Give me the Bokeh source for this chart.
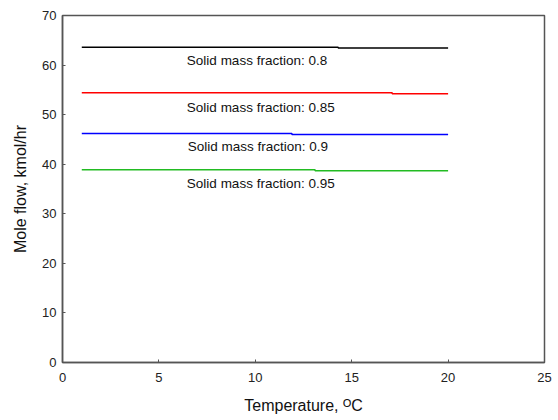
from bokeh.plotting import figure
from bokeh.models import Range1d, FixedTicker, ColumnDataSource
from bokeh.core.properties import value
from bokeh.embed import file_html
from bokeh.resources import INLINE

# Data
temp_08 = [1, 14.3, 14.3, 20]
flow_08 = [63.6, 63.6, 63.45, 63.45]
temp_085 = [1, 17.1, 17.1, 20]
flow_085 = [54.4, 54.4, 54.2, 54.2]
temp_09 = [1, 11.9, 11.9, 20]
flow_09 = [46.2, 46.2, 46.0, 46.0]
temp_095 = [1, 13.1, 13.1, 20]
flow_095 = [38.9, 38.9, 38.7, 38.7]

labels = ["Solid mass fraction: 0.8", "Solid mass fraction: 0.85",
          "Solid mass fraction: 0.9", "Solid mass fraction: 0.95"]
label_x = [6.45, 6.45, 6.5, 6.45]
label_y = [60.9, 51.5, 43.6, 36.2]

x_ticks = [0, 5, 10, 15, 20, 25]
y_ticks = [0, 10, 20, 30, 40, 50, 60, 70]

FONT = "Liberation Sans"

p = figure(width=552, height=420, output_backend="svg", toolbar_location=None,
           x_range=Range1d(0, 25), y_range=Range1d(0, 70),
           min_border_left=62, min_border_right=8, min_border_top=15, min_border_bottom=58)

p.xgrid.visible = False
p.ygrid.visible = False
p.outline_line_color = "#555555"
p.outline_line_width = 1.5

for ax in (p.xaxis[0], p.yaxis[0]):
    ax.axis_line_color = "#555555"
    ax.axis_line_width = 1.5
    ax.major_tick_in = 3
    ax.major_tick_out = 0
    ax.major_tick_line_color = "#555555"
    ax.minor_tick_line_color = None
    ax.major_label_text_font = FONT
    ax.major_label_text_font_size = "13px"
    ax.major_label_text_color = "#222222"
    ax.axis_label_text_font = FONT
    ax.axis_label_text_font_size = "16px"
    ax.axis_label_text_font_style = "normal"
    ax.axis_label_text_color = "#111111"

p.xaxis.ticker = FixedTicker(ticks=x_ticks)
p.yaxis.ticker = FixedTicker(ticks=y_ticks)
p.xaxis.major_label_standoff = 10
p.yaxis.major_label_standoff = 6
p.xaxis.axis_label = "Temperature, \u1D3CC"
p.yaxis.axis_label = "Mole flow, kmol/hr"
p.xaxis.axis_label_standoff = 12
p.yaxis.axis_label_standoff = 10

p.line(temp_08, flow_08, line_color="black", line_width=1.5)
p.line(temp_085, flow_085, line_color="#ff0000", line_width=1.5)
p.line(temp_09, flow_09, line_color="#0000ff", line_width=1.5)
p.line(temp_095, flow_095, line_color="#22bb22", line_width=1.5)

src = ColumnDataSource(dict(x=label_x, y=label_y, t=labels))
p.text(x="x", y="y", text="t", source=src, text_font=value(FONT),
       text_font_size="13.5px", text_color="#111111", text_baseline="middle",
       text_align="left")

open("out.html", "w").write(file_html(p, INLINE))
